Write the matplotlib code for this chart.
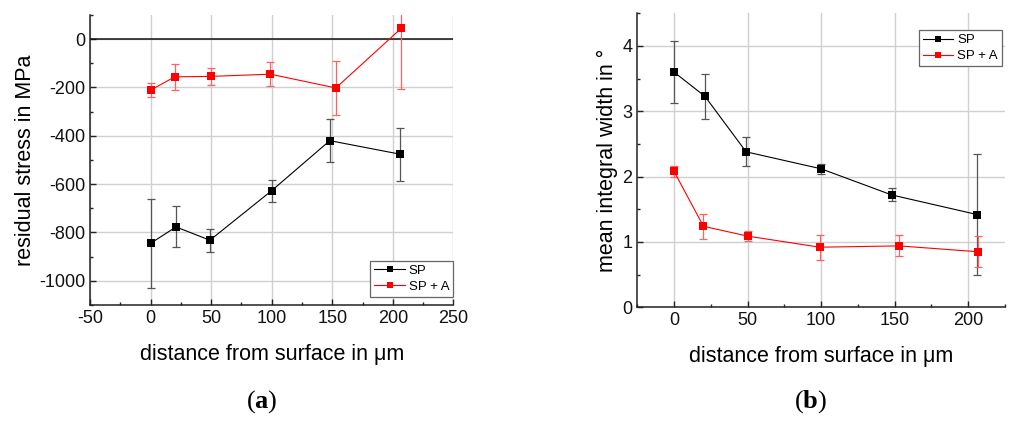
import matplotlib
matplotlib.use("Agg")
import matplotlib.pyplot as plt
from matplotlib.ticker import MultipleLocator
from matplotlib.lines import Line2D

plt.rcParams['font.family'] = ['Liberation Sans', 'DejaVu Sans']
plt.rcParams['axes.unicode_minus'] = False
plt.rcParams['mathtext.fontset'] = 'custom'
plt.rcParams['mathtext.rm'] = 'Liberation Serif'
plt.rcParams['mathtext.bf'] = 'Liberation Serif:bold'

# (a) residual stress
depth_sp_a = [0, 21, 49, 100, 148, 206]
stress_sp = [-845, -777, -832, -627, -420, -476]
stress_sp_err = [185, 85, 47, 46, 90, 110]
depth_spa_a = [0, 20, 50, 99, 153, 207]
stress_spa = [-211, -156, -154, -145, -202, 45]
stress_spa_err = [28, 55, 35, 50, 112, 250]

# (b) mean integral width
depth_sp_b = [0, 21, 49, 100, 148, 206]
width_sp = [3.60, 3.23, 2.38, 2.12, 1.72, 1.42]
width_sp_err = [0.48, 0.34, 0.22, 0.08, 0.10, 0.92]
depth_spa_b = [0, 20, 50, 99, 153, 207]
width_spa = [2.08, 1.24, 1.09, 0.92, 0.94, 0.85]
width_spa_err = [0.09, 0.19, 0.08, 0.19, 0.16, 0.24]

series_labels = ["SP", "SP + A"]
xlabel = "distance from surface in μm"

BLACK = "#000000"
RED = "#ff0000"
BLACK_ERR = "#555555"
RED_ERR = "#ff6060"
GRID = "#d0d0d0"

fig = plt.figure(figsize=(10.09, 4.22), dpi=100)
ax1 = fig.add_axes([0.0892, 0.2773, 0.3601, 0.6872])
ax2 = fig.add_axes([0.6316, 0.2718, 0.3644, 0.6966])


def style_axes(ax):
    for s in ("top", "right"):
        ax.spines[s].set_visible(False)
    for s in ("left", "bottom"):
        ax.spines[s].set_color("#222222")
        ax.spines[s].set_linewidth(1.1)
    ax.tick_params(which="both", direction="in", colors="#222222",
                   labelsize=13, labelcolor="#111111")
    ax.tick_params(which="major", length=4.5, width=1)
    ax.tick_params(which="minor", length=2.5, width=1)
    ax.grid(True, which="major", color=GRID, linewidth=1)
    ax.set_axisbelow(True)


def draw_series(ax, x, y, err, color, ecolor):
    ax.errorbar(x, y, yerr=err, fmt="none", ecolor=ecolor, elinewidth=0.9,
                capsize=3, capthick=0.9, zorder=3)
    ax.plot(x, y, "-", color=color, linewidth=0.8, zorder=4)
    ax.plot(x, y, "s", color=color, markersize=5.5, markeredgewidth=0, zorder=5)


def add_legend(ax, loc, bbox):
    handles = [
        Line2D([], [], color=BLACK, lw=0.8, marker="s", ms=5, mew=0),
        Line2D([], [], color=RED, lw=0.8, marker="s", ms=5, mew=0),
    ]
    leg = ax.legend(handles, series_labels, loc=loc, bbox_to_anchor=bbox,
                    fontsize=9.5, fancybox=False, framealpha=1,
                    edgecolor="#666666", handlelength=2.3, handletextpad=0.3,
                    borderpad=0.3, labelspacing=0.3, borderaxespad=0)
    leg.get_frame().set_linewidth(0.9)


# (a)
style_axes(ax1)
ax1.axhline(0, color="#111111", linewidth=1.1, zorder=2)
draw_series(ax1, depth_sp_a, stress_sp, stress_sp_err, BLACK, BLACK_ERR)
draw_series(ax1, depth_spa_a, stress_spa, stress_spa_err, RED, RED_ERR)
ax1.set_xlim(-50, 250)
ax1.set_ylim(-1100, 100)
ax1.xaxis.set_major_locator(MultipleLocator(50))
ax1.xaxis.set_minor_locator(MultipleLocator(25))
ax1.yaxis.set_major_locator(MultipleLocator(200))
ax1.yaxis.set_minor_locator(MultipleLocator(100))
ax1.set_ylabel("residual stress in MPa", fontsize=15.5, labelpad=2)
ax1.set_xlabel(xlabel, fontsize=15.5, labelpad=12)
add_legend(ax1, "lower right", (1.0, 0.028))

# (b)
style_axes(ax2)
draw_series(ax2, depth_sp_b, width_sp, width_sp_err, BLACK, BLACK_ERR)
draw_series(ax2, depth_spa_b, width_spa, width_spa_err, RED, RED_ERR)
ax2.set_xlim(-25, 225)
ax2.set_ylim(0, 4.5)
ax2.xaxis.set_major_locator(MultipleLocator(50))
ax2.xaxis.set_minor_locator(MultipleLocator(25))
ax2.yaxis.set_major_locator(MultipleLocator(1))
ax2.yaxis.set_minor_locator(MultipleLocator(0.5))
ax2.set_ylabel("mean integral width in °", fontsize=15.5, labelpad=3)
ax2.set_xlabel(xlabel, fontsize=15.5, labelpad=12)
add_legend(ax2, "upper right", (0.992, 0.943))

# panel captions
fig.text(0.259, 0.035, r"($\mathbf{a}$)", fontsize=19, family="Liberation Serif",
         ha="center", va="baseline")
fig.text(0.803, 0.035, r"($\mathbf{b}$)", fontsize=19, family="Liberation Serif",
         ha="center", va="baseline")

fig.savefig("out.png", dpi=100)
